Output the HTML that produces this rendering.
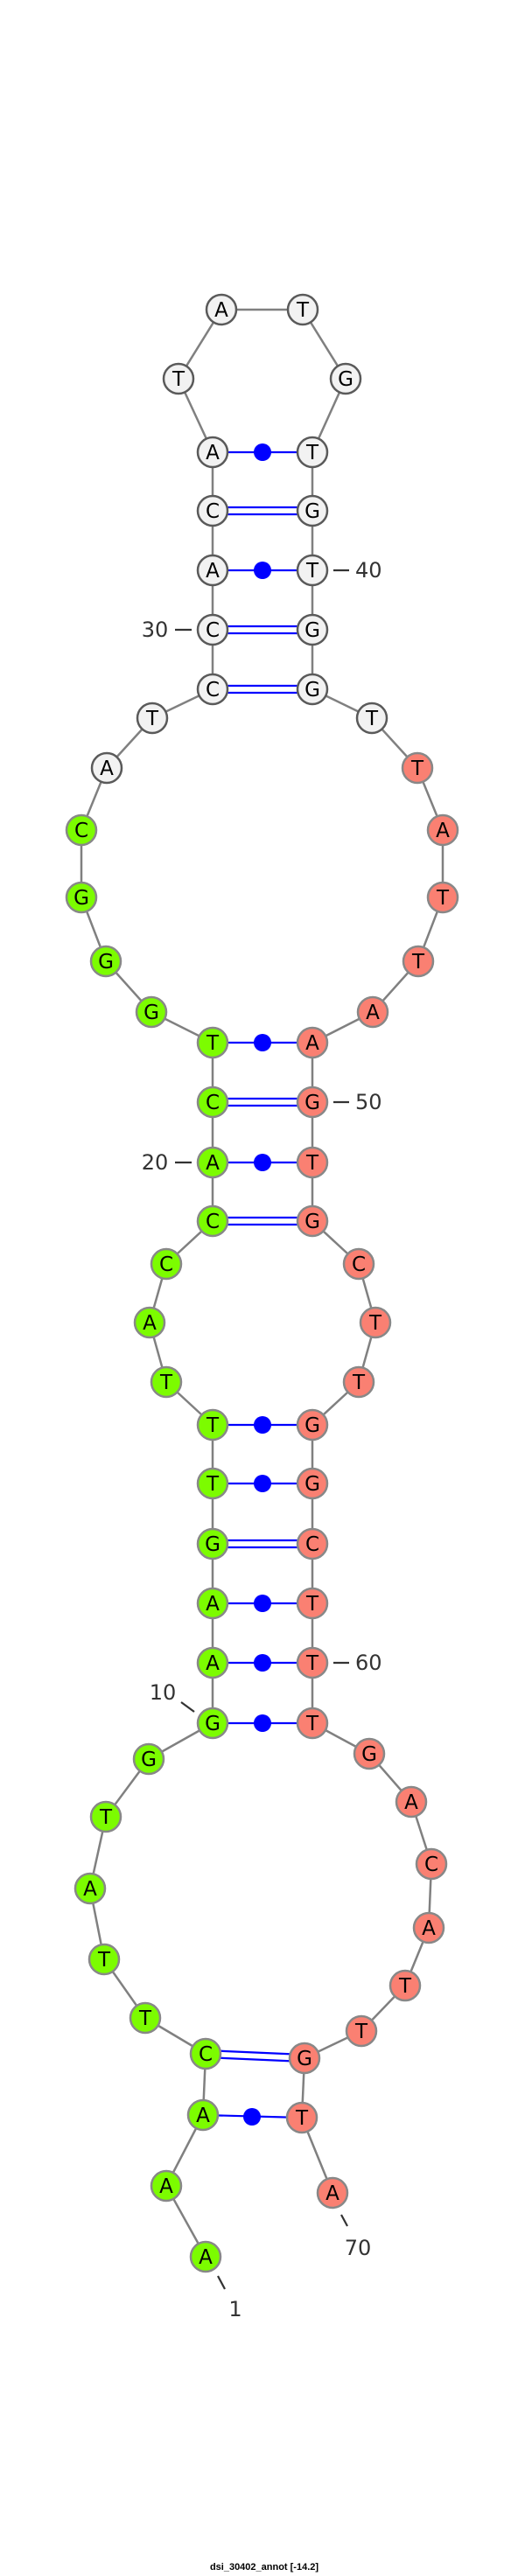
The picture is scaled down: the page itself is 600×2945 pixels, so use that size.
<!DOCTYPE html>
<html><head><meta charset="utf-8"><style>
html,body{margin:0;padding:0;background:#fff;width:600px;height:2945px;overflow:hidden}
svg{display:block}
.n text{font-family:"DejaVu Sans","Liberation Sans",sans-serif;font-size:23px;text-anchor:middle;dominant-baseline:central;fill:#000}
.w{fill:#f2f2f2;stroke:#5a5a5a;stroke-width:2.5}
.g{fill:#7cfc00;stroke:#888;stroke-width:2.5}
.s{fill:#fa8072;stroke:#888;stroke-width:2.5}
.lb{font-family:"DejaVu Sans","Liberation Sans",sans-serif;font-size:24px;fill:#333;dominant-baseline:central}
.b{stroke:#0000ff;stroke-width:2.2}
</style></head><body>
<svg width="600" height="2945" viewBox="0 0 600 2945">
<polyline fill="none" stroke="#808080" stroke-width="2.5" points="235,2580 190,2499 232,2418 235,2348 166,2307 119,2240 103,2159 121,2077 170,2011 243,1970 243,1901 243,1833 243,1765 243,1696 243,1629 190,1580 171,1512 190,1445 243,1396 243,1329 243,1260 243,1192 173,1157 121,1099 93,1026 93,949 122,878 174,821 243,788 243,720 243,652 243,584 243,517 204,433 253,354 346,354 395,433 357,517 357,584 357,652 357,720 357,788 425,821 477,878 506,949 506,1026 478,1099 426,1157 357,1192 357,1260 357,1329 357,1396 410,1445 429,1512 410,1580 357,1629 357,1696 357,1765 357,1833 357,1901 357,1970 422,2005 470,2060 493,2131 490,2204 463,2270 413,2322 348,2353 345,2421 380,2507"/>
<g class="b" fill="none">
<!-- double bonds -->
<line x1="235" y1="2344" x2="348" y2="2349"/><line x1="235" y1="2352" x2="348" y2="2357"/>
<line x1="243" y1="1761" x2="357" y2="1761"/><line x1="243" y1="1769" x2="357" y2="1769"/>
<line x1="243" y1="1392" x2="357" y2="1392"/><line x1="243" y1="1400" x2="357" y2="1400"/>
<line x1="243" y1="1256" x2="357" y2="1256"/><line x1="243" y1="1264" x2="357" y2="1264"/>
<line x1="243" y1="784" x2="357" y2="784"/><line x1="243" y1="792" x2="357" y2="792"/>
<line x1="243" y1="716" x2="357" y2="716"/><line x1="243" y1="724" x2="357" y2="724"/>
<line x1="243" y1="580" x2="357" y2="580"/><line x1="243" y1="588" x2="357" y2="588"/>
<!-- single bonds -->
<line x1="232" y1="2418" x2="345" y2="2421"/>
<line x1="243" y1="1970" x2="357" y2="1970"/>
<line x1="243" y1="1901" x2="357" y2="1901"/>
<line x1="243" y1="1833" x2="357" y2="1833"/>
<line x1="243" y1="1696" x2="357" y2="1696"/>
<line x1="243" y1="1629" x2="357" y2="1629"/>
<line x1="243" y1="1329" x2="357" y2="1329"/>
<line x1="243" y1="1192" x2="357" y2="1192"/>
<line x1="243" y1="652" x2="357" y2="652"/>
<line x1="243" y1="517" x2="357" y2="517"/>
</g>
<g fill="#0000ff">
<circle cx="288" cy="2420" r="10"/><circle cx="300" cy="1970" r="10"/><circle cx="300" cy="1901" r="10"/><circle cx="300" cy="1833" r="10"/><circle cx="300" cy="1696" r="10"/><circle cx="300" cy="1629" r="10"/><circle cx="300" cy="1329" r="10"/><circle cx="300" cy="1192" r="10"/><circle cx="300" cy="652" r="10"/><circle cx="300" cy="517" r="10"/>
</g>
<g stroke="#333" stroke-width="2.2">
<line x1="200" y1="720" x2="219" y2="720"/><line x1="381" y1="652" x2="399" y2="652"/>
<line x1="200" y1="1329" x2="219" y2="1329"/><line x1="381" y1="1260" x2="399" y2="1260"/>
<line x1="381" y1="1901" x2="399" y2="1901"/><line x1="207" y1="1946" x2="222" y2="1957"/>
<line x1="249" y1="2602" x2="257" y2="2617"/><line x1="390" y1="2532" x2="397" y2="2545"/>
</g>
<text class="lb" x="177" y="720" text-anchor="middle">30</text>
<text class="lb" x="406" y="652">40</text>
<text class="lb" x="177" y="1329" text-anchor="middle">20</text>
<text class="lb" x="406" y="1260">50</text>
<text class="lb" x="406" y="1901">60</text>
<text class="lb" x="186" y="1935" text-anchor="middle">10</text>
<text class="lb" x="269" y="2640" text-anchor="middle">1</text>
<text class="lb" x="409" y="2570" text-anchor="middle">70</text>
<g class="n">
<circle class="g" cx="235" cy="2580" r="17"/><text x="235" y="2581">A</text>
<circle class="g" cx="190" cy="2499" r="17"/><text x="190" y="2500">A</text>
<circle class="g" cx="232" cy="2418" r="17"/><text x="232" y="2419">A</text>
<circle class="g" cx="235" cy="2348" r="17"/><text x="235" y="2349">C</text>
<circle class="g" cx="166" cy="2307" r="17"/><text x="166" y="2308">T</text>
<circle class="g" cx="119" cy="2240" r="17"/><text x="119" y="2241">T</text>
<circle class="g" cx="103" cy="2159" r="17"/><text x="103" y="2160">A</text>
<circle class="g" cx="121" cy="2077" r="17"/><text x="121" y="2078">T</text>
<circle class="g" cx="170" cy="2011" r="17"/><text x="170" y="2012">G</text>
<circle class="g" cx="243" cy="1970" r="17"/><text x="243" y="1971">G</text>
<circle class="g" cx="243" cy="1901" r="17"/><text x="243" y="1902">A</text>
<circle class="g" cx="243" cy="1833" r="17"/><text x="243" y="1834">A</text>
<circle class="g" cx="243" cy="1765" r="17"/><text x="243" y="1766">G</text>
<circle class="g" cx="243" cy="1696" r="17"/><text x="243" y="1697">T</text>
<circle class="g" cx="243" cy="1629" r="17"/><text x="243" y="1630">T</text>
<circle class="g" cx="190" cy="1580" r="17"/><text x="190" y="1581">T</text>
<circle class="g" cx="171" cy="1512" r="17"/><text x="171" y="1513">A</text>
<circle class="g" cx="190" cy="1445" r="17"/><text x="190" y="1446">C</text>
<circle class="g" cx="243" cy="1396" r="17"/><text x="243" y="1397">C</text>
<circle class="g" cx="243" cy="1329" r="17"/><text x="243" y="1330">A</text>
<circle class="g" cx="243" cy="1260" r="17"/><text x="243" y="1261">C</text>
<circle class="g" cx="243" cy="1192" r="17"/><text x="243" y="1193">T</text>
<circle class="g" cx="173" cy="1157" r="17"/><text x="173" y="1158">G</text>
<circle class="g" cx="121" cy="1099" r="17"/><text x="121" y="1100">G</text>
<circle class="g" cx="93" cy="1026" r="17"/><text x="93" y="1027">G</text>
<circle class="g" cx="93" cy="949" r="17"/><text x="93" y="950">C</text>
<circle class="w" cx="122" cy="878" r="17"/><text x="122" y="879">A</text>
<circle class="w" cx="174" cy="821" r="17"/><text x="174" y="822">T</text>
<circle class="w" cx="243" cy="788" r="17"/><text x="243" y="789">C</text>
<circle class="w" cx="243" cy="720" r="17"/><text x="243" y="721">C</text>
<circle class="w" cx="243" cy="652" r="17"/><text x="243" y="653">A</text>
<circle class="w" cx="243" cy="584" r="17"/><text x="243" y="585">C</text>
<circle class="w" cx="243" cy="517" r="17"/><text x="243" y="518">A</text>
<circle class="w" cx="204" cy="433" r="17"/><text x="204" y="434">T</text>
<circle class="w" cx="253" cy="354" r="17"/><text x="253" y="355">A</text>
<circle class="w" cx="346" cy="354" r="17"/><text x="346" y="355">T</text>
<circle class="w" cx="395" cy="433" r="17"/><text x="395" y="434">G</text>
<circle class="w" cx="357" cy="517" r="17"/><text x="357" y="518">T</text>
<circle class="w" cx="357" cy="584" r="17"/><text x="357" y="585">G</text>
<circle class="w" cx="357" cy="652" r="17"/><text x="357" y="653">T</text>
<circle class="w" cx="357" cy="720" r="17"/><text x="357" y="721">G</text>
<circle class="w" cx="357" cy="788" r="17"/><text x="357" y="789">G</text>
<circle class="w" cx="425" cy="821" r="17"/><text x="425" y="822">T</text>
<circle class="s" cx="477" cy="878" r="17"/><text x="477" y="879">T</text>
<circle class="s" cx="506" cy="949" r="17"/><text x="506" y="950">A</text>
<circle class="s" cx="506" cy="1026" r="17"/><text x="506" y="1027">T</text>
<circle class="s" cx="478" cy="1099" r="17"/><text x="478" y="1100">T</text>
<circle class="s" cx="426" cy="1157" r="17"/><text x="426" y="1158">A</text>
<circle class="s" cx="357" cy="1192" r="17"/><text x="357" y="1193">A</text>
<circle class="s" cx="357" cy="1260" r="17"/><text x="357" y="1261">G</text>
<circle class="s" cx="357" cy="1329" r="17"/><text x="357" y="1330">T</text>
<circle class="s" cx="357" cy="1396" r="17"/><text x="357" y="1397">G</text>
<circle class="s" cx="410" cy="1445" r="17"/><text x="410" y="1446">C</text>
<circle class="s" cx="429" cy="1512" r="17"/><text x="429" y="1513">T</text>
<circle class="s" cx="410" cy="1580" r="17"/><text x="410" y="1581">T</text>
<circle class="s" cx="357" cy="1629" r="17"/><text x="357" y="1630">G</text>
<circle class="s" cx="357" cy="1696" r="17"/><text x="357" y="1697">G</text>
<circle class="s" cx="357" cy="1765" r="17"/><text x="357" y="1766">C</text>
<circle class="s" cx="357" cy="1833" r="17"/><text x="357" y="1834">T</text>
<circle class="s" cx="357" cy="1901" r="17"/><text x="357" y="1902">T</text>
<circle class="s" cx="357" cy="1970" r="17"/><text x="357" y="1971">T</text>
<circle class="s" cx="422" cy="2005" r="17"/><text x="422" y="2006">G</text>
<circle class="s" cx="470" cy="2060" r="17"/><text x="470" y="2061">A</text>
<circle class="s" cx="493" cy="2131" r="17"/><text x="493" y="2132">C</text>
<circle class="s" cx="490" cy="2204" r="17"/><text x="490" y="2205">A</text>
<circle class="s" cx="463" cy="2270" r="17"/><text x="463" y="2271">T</text>
<circle class="s" cx="413" cy="2322" r="17"/><text x="413" y="2323">T</text>
<circle class="s" cx="348" cy="2353" r="17"/><text x="348" y="2354">G</text>
<circle class="s" cx="345" cy="2421" r="17"/><text x="345" y="2422">T</text>
<circle class="s" cx="380" cy="2507" r="17"/><text x="380" y="2508">A</text>
</g>
<text x="302" y="2938" text-anchor="middle" font-family="'Liberation Sans',sans-serif" font-size="11" font-weight="bold" fill="#000">dsi_30402_annot [-14.2]</text>
</svg>
</body></html>
